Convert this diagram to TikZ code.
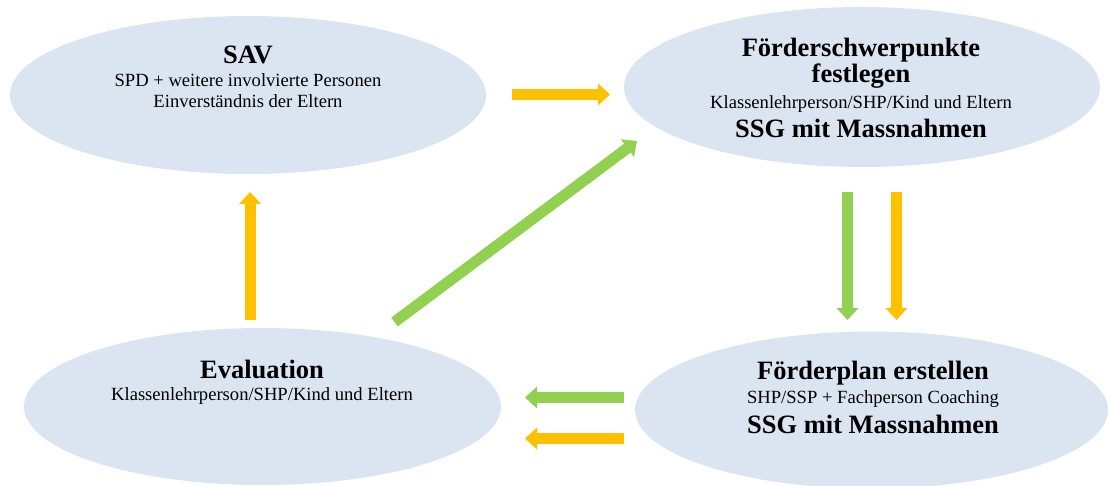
\documentclass[tikz,border=0pt]{standalone}
\usepackage{fontspec}
\setmainfont{Liberation Serif}
\usetikzlibrary{shapes.geometric,arrows.meta}
\definecolor{ellfill}{HTML}{DBE4F1}
\definecolor{arrorange}{HTML}{FFC000}
\definecolor{arrgreen}{HTML}{92D050}
\tikzset{
  phase/.style={ellipse, fill=ellfill, draw=none, inner sep=0pt, minimum width=476pt, minimum height=158pt},
  headtxt/.style={anchor=base, inner sep=0pt, font=\fontsize{26.5}{30}\selectfont\bfseries},
  subtxt/.style={anchor=base, inner sep=0pt, font=\fontsize{18.6}{21}\selectfont},
  blockarrow/.style={line width=11pt, -{Triangle[length=12pt,width=22pt,line width=0pt]}}
}
\begin{document}
\begin{tikzpicture}[x=1pt,y=-1pt]
\useasboundingbox (0,0) rectangle (1109,486);
% ellipses
\node[phase] (sav) at (248,95) {};
\node[phase, minimum height=160pt] (fsp) at (862,87) {};
\node[phase, minimum width=477pt, minimum height=157pt] (eval) at (262.5,406.5) {};
\node[phase, minimum width=473pt, minimum height=157pt] (fpl) at (871.5,410) {};
% texts
\node[headtxt] (savh) at (248,64) {SAV};
\node[subtxt] (savs1) at (248,87) {SPD + weitere involvierte Personen};
\node[subtxt] (savs2) at (248,108) {Einverständnis der Eltern};
\node[headtxt] (fsph1) at (861,57) {Förderschwerpunkte};
\node[headtxt] (fsph2) at (861,83) {festlegen};
\node[subtxt] (fsps) at (861,109) {Klassenlehrperson/SHP/Kind und Eltern};
\node[headtxt] (fsph3) at (861,138) {SSG mit Massnahmen};
\node[headtxt] (evalh) at (262,378) {Evaluation};
\node[subtxt] (evals) at (262,401) {Klassenlehrperson/SHP/Kind und Eltern};
\node[headtxt] (fplh1) at (873,380) {Förderplan erstellen};
\node[subtxt] (fpls) at (873,403) {SHP/SSP + Fachperson Coaching};
\node[headtxt] (fplh2) at (873,433) {SSG mit Massnahmen};
% arrow end points
\coordinate (a1s) at (512,94.5);   \coordinate (a1e) at (610,94.5);
\coordinate (a2s) at (847.5,192);  \coordinate (a2e) at (847.5,320);
\coordinate (a3s) at (896.5,192);  \coordinate (a3e) at (896.5,320);
\coordinate (a4s) at (624,397.5);  \coordinate (a4e) at (525,397.5);
\coordinate (a5s) at (624,438.5);  \coordinate (a5e) at (525,438.5);
\coordinate (a6s) at (250,320);    \coordinate (a6e) at (250,192);
\coordinate (a7s) at (394.5,322);  \coordinate (a7e) at (637,141);
% arrows
\draw[blockarrow, arrorange] (a1s) -- (a1e);
\draw[blockarrow, arrgreen] (a2s) -- (a2e);
\draw[blockarrow, arrorange] (a3s) -- (a3e);
\draw[blockarrow, arrgreen] (a4s) -- (a4e);
\draw[blockarrow, arrorange] (a5s) -- (a5e);
\draw[blockarrow, arrorange] (a6s) -- (a6e);
\draw[blockarrow, arrgreen] (a7s) -- (a7e);
\end{tikzpicture}
\end{document}
